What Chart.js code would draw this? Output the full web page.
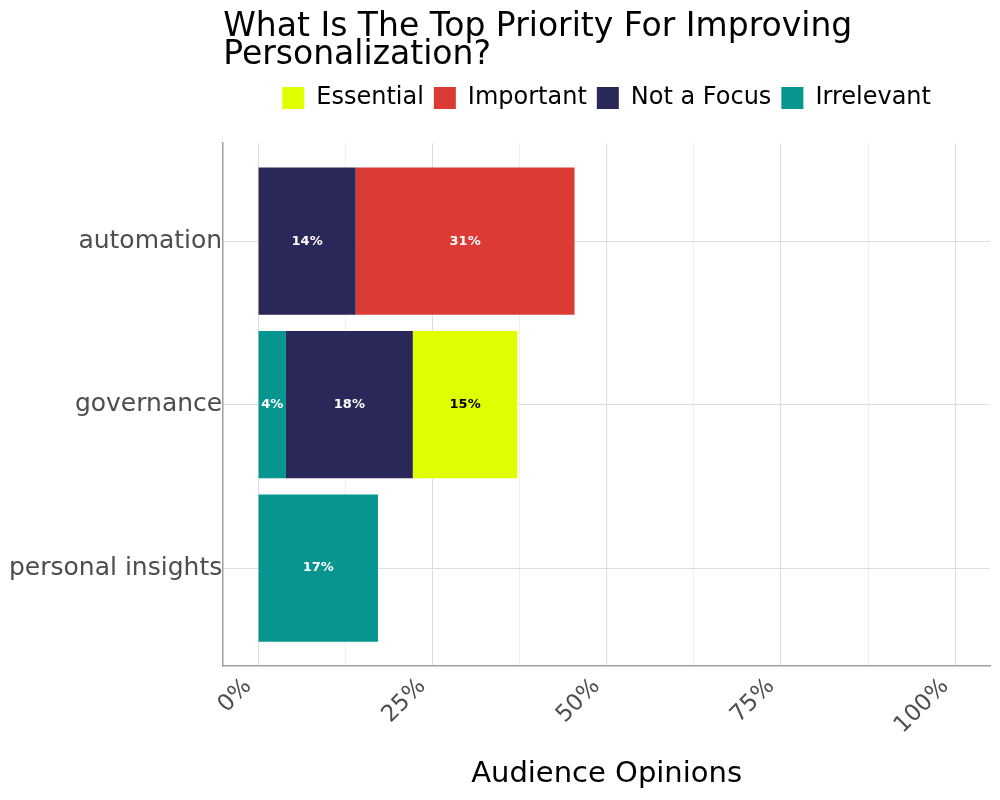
<!DOCTYPE html>
<html>
<head>
<meta charset="utf-8">
<script src="https://cdn.jsdelivr.net/npm/chart.js@4"></script>
<style>
  html, body { margin: 0; padding: 0; background: #fff; }
  #wrap { width: 1000px; height: 800px; }
</style>
</head>
<body>
<div id="wrap"><canvas id="myChart"></canvas></div>
<script>
"use strict";

const categories = ["automation", "governance", "personal insights"];
const seriesNames = ["Irrelevant", "Not a Focus", "Important", "Essential"];
const irrelevant = [null, 4, 17.2];
const notAFocus = [14, 18.2, null];
const important = [31.4, null, null];
const essential = [null, 15, null];
const xTicks = [0, 12.5, 25, 37.5, 50, 62.5, 75, 87.5, 100];

const colors = ["#069590", "#2a2859", "#dc3a35", "#e0ff00"];
const labelColors = ["#ffffff", "#ffffff", "#ffffff", "#000000"];
const font = "'DejaVu Sans', sans-serif";

function toPoints(values) {
    return values.map((v, i) => ({ x: v, y: i }));
}

const allSeries = [irrelevant, notAFocus, important, essential];

// labels in the middle of each bar
const barLabels = {
    id: "barLabels",
    afterDatasetsDraw(chart) {
        const ctx = chart.ctx;
        ctx.save();
        ctx.font = "bold 13px " + font;
        ctx.textAlign = "center";
        ctx.textBaseline = "middle";
        chart.data.datasets.forEach((ds, di) => {
            const meta = chart.getDatasetMeta(di);
            meta.data.forEach((bar, i) => {
                const v = ds.data[i].x;
                if (v === null || v === undefined) return;
                const p = bar.getCenterPoint();
                ctx.fillStyle = labelColors[di];
                ctx.fillText(Math.round(v) + "%", p.x, p.y);
            });
        });
        ctx.restore();
    }
};

// extra space under the legend
const legendGap = {
    id: "legendGap",
    afterInit(chart) {
        const legend = chart.legend;
        if (!legend) return;
        const fit = legend.fit;
        legend.fit = function () {
            fit.call(this);
            this.height += 23;
        };
    }
};

new Chart(document.getElementById("myChart"), {
    type: "bar",
    data: {
        datasets: seriesNames.map((name, i) => ({
            label: name,
            data: toPoints(allSeries[i]),
            backgroundColor: colors[i],
            borderWidth: 0,
            barPercentage: 0.9,
            categoryPercentage: 1
        }))
    },
    options: {
        indexAxis: "y",
        responsive: true,
        maintainAspectRatio: false,
        animation: false,
        layout: { padding: { left: 8, right: 10, top: 7, bottom: 8 } },
        scales: {
            x: {
                type: "linear",
                stacked: true,
                min: -5,
                max: 105,
                afterBuildTicks(axis) {
                    axis.ticks = xTicks.map(v => ({ value: v }));
                },
                grid: {
                    color: c => (c.tick && c.tick.value % 25 === 0) ? "#dedede" : "#efefef",
                    lineWidth: 1,
                    drawTicks: false
                },
                border: { color: "#a0a0a0", width: 1.5 },
                ticks: {
                    minRotation: 45,
                    maxRotation: 45,
                    padding: 7,
                    labelOffset: -10,
                    color: "#4d4d4d",
                    font: { family: font, size: 23 },
                    callback: v => (v % 25 === 0 ? v + "%" : "")
                },
                title: {
                    display: true,
                    text: "Audience Opinions",
                    color: "#000",
                    font: { family: font, size: 29 },
                    padding: { top: 11, bottom: 0 }
                }
            },
            y: {
                type: "linear",
                stacked: true,
                reverse: true,
                offset: false,
                min: -0.6,
                max: 2.6,
                afterBuildTicks(axis) {
                    axis.ticks = categories.map((c, i) => ({ value: i }));
                },
                grid: { color: "#dedede", drawTicks: false, offset: false },
                border: { color: "#a0a0a0", width: 1.5 },
                ticks: {
                    padding: 1,
                    color: "#4d4d4d",
                    font: { family: font, size: 25 },
                    callback: v => categories[v]
                }
            }
        },
        plugins: {
            title: {
                display: true,
                fullSize: false,
                align: "start",
                text: ["What Is The Top Priority For Improving", "Personalization?"],
                color: "#000",
                font: { family: font, size: 33, weight: "normal", lineHeight: 0.85 },
                padding: { top: 6, bottom: 7 }
            },
            legend: {
                display: true,
                position: "top",
                fullSize: false,
                reverse: true,
                labels: {
                    boxWidth: 22,
                    boxHeight: 22,
                    padding: 10,
                    color: "#000",
                    font: { family: font, size: 24 }
                }
            },
            tooltip: { enabled: false }
        }
    },
    plugins: [barLabels, legendGap]
});
</script>
</body>
</html>
